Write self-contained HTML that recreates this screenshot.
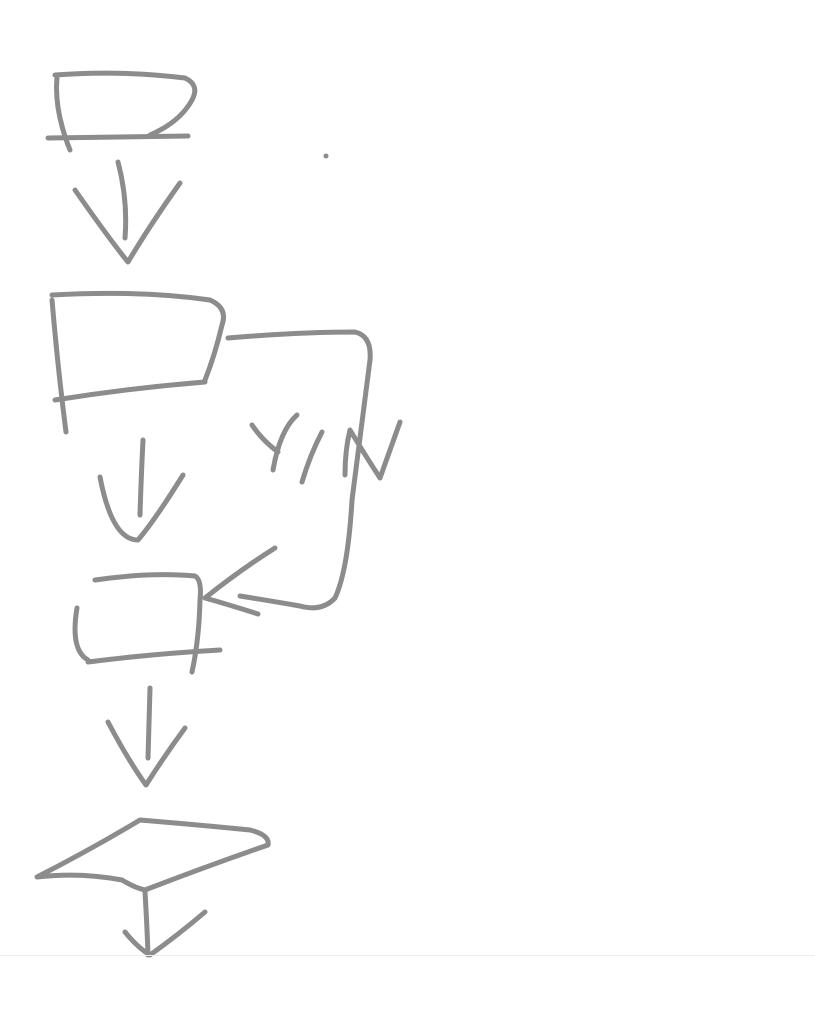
<!DOCTYPE html>
<html><head><meta charset="utf-8"><style>
html,body{margin:0;padding:0;background:#fff;width:815px;height:1024px;overflow:hidden}
svg{display:block}
path{fill:none;stroke:#8c8c8c;stroke-width:5;stroke-linecap:round;stroke-linejoin:round}
</style></head><body>
<svg width="815" height="1024" viewBox="0 0 815 1024">
<g>
<path d="M57,78 Q54,110 70,150"/>
<path d="M55,75 Q120,70 185,78 Q200,85 192,100 Q180,122 150,135"/>
<path d="M48,138 Q120,137 188,136"/>
</g>
<g>
<path d="M118,162 Q128,200 125,238"/>
<path d="M75,190 Q110,240 128,262 Q150,225 180,183"/>
</g>
<circle cx="326" cy="156" r="2.5" fill="#8c8c8c"/>
<g>
<path d="M52,300 Q58,370 66,432"/>
<path d="M52,295 Q140,290 210,300 Q228,308 222,325 Q215,355 205,380"/>
<path d="M55,400 Q130,388 205,382"/>
</g>
<g>
<path d="M228,338 Q300,332 355,332 Q372,336 370,360 Q362,420 352,500 Q348,570 335,598 Q322,612 300,606 Q265,600 240,596"/>
<path d="M258,614 Q230,605 205,598 Q240,570 275,548"/>
</g>
<g>
<path d="M252,425 Q262,440 278,452"/>
<path d="M273,470 Q280,430 297,415"/>
<path d="M302,482 Q310,455 322,432"/>
<path d="M345,475 Q345,450 350,430 Q365,455 380,478 Q390,450 400,422"/>
</g>
<g>
<path d="M143,440 Q141,480 140,515"/>
<path d="M100,477 Q112,540 138,540 Q155,520 183,475"/>
</g>
<g>
<path d="M77,608 Q70,650 88,660"/>
<path d="M95,580 Q150,572 195,576 Q202,580 200,600 Q199,640 192,672"/>
<path d="M88,662 Q150,654 220,650"/>
</g>
<g>
<path d="M150,688 Q149,725 148,758"/>
<path d="M108,722 Q128,760 146,785 Q165,755 185,728"/>
</g>
<g>
<path d="M140,820 Q90,850 37,877 Q80,872 122,880 Q135,888 145,890 Q210,865 268,845 Q270,835 250,830 Q200,825 140,820"/>
</g>
<g>
<path d="M145,892 Q147,925 148,955"/>
<path d="M125,932 Q138,948 150,955 Q178,935 205,912"/>
</g>
<rect x="0" y="955" width="815" height="1" fill="#eeeeee"/>
</svg>
</body></html>
